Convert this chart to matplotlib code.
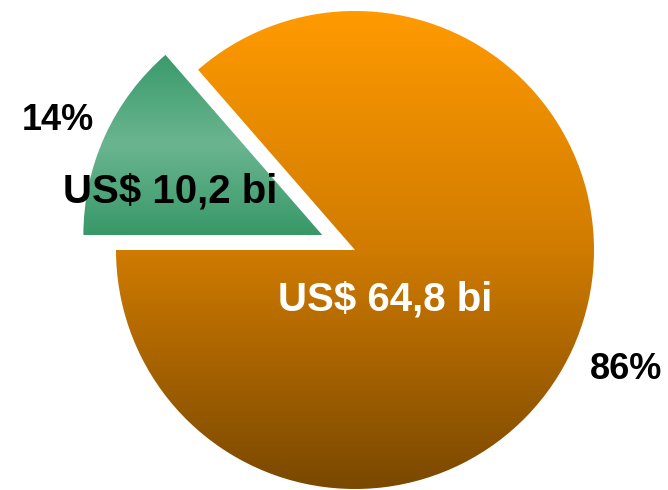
import numpy as np
import matplotlib.pyplot as plt
from matplotlib.colors import LinearSegmentedColormap

# valores (US$ bi)
valores = [64.8, 10.2]
rotulos = ['US$ 64,8 bi', 'US$ 10,2 bi']
percentuais = ['86%', '14%']

plt.rcParams['font.family'] = ['Liberation Sans', 'DejaVu Sans']

fig = plt.figure(figsize=(6.68, 4.9), dpi=100)
ax = fig.add_axes([0, 0, 1, 1])

wedges, _ = ax.pie(valores, startangle=180, explode=[0, 0.15], radius=1,
                   wedgeprops=dict(linewidth=0))

# escala: 239 px por unidade, centro em (355, 250) px
ax.set_xlim(-355 / 239, (668 - 355) / 239)
ax.set_ylim(-(490 - 250) / 239, 250 / 239)
ax.set_aspect('auto')
ax.axis('off')

laranja = LinearSegmentedColormap.from_list(
    'lar', [(0, '#7a4800'), (0.5, '#d07b00'), (1, '#ff9a00')])
verde = LinearSegmentedColormap.from_list(
    'ver', [(0, '#389868'), (0.5, '#6ab590'), (1, '#3a9a6a')])

grad = np.linspace(0, 1, 256).reshape(-1, 1)
for w, cmap in zip(wedges, [laranja, verde]):
    w.set_facecolor('none')
    bb = w.get_path().get_extents(w.get_transform() + ax.transData.inverted())
    im = ax.imshow(grad, cmap=cmap, origin='lower', aspect='auto',
                   extent=[bb.x0, bb.x1, bb.y0, bb.y1], zorder=1)
    im.set_clip_path(w)

ax.set_xlim(-355 / 239, (668 - 355) / 239)
ax.set_ylim(-(490 - 250) / 239, 250 / 239)

ax.text(0.125, -0.206, rotulos[0], color='white', fontsize=29,
        fontweight='bold', ha='center', va='center', zorder=3)
ax.text(-0.774, 0.245, rotulos[1], color='black', fontsize=29,
        fontweight='bold', ha='center', va='center', zorder=3)
ax.text(1.136, -0.502, percentuais[0], color='black', fontsize=26,
        fontweight='bold', ha='center', va='center', zorder=3)
ax.text(-1.245, 0.540, percentuais[1], color='black', fontsize=26,
        fontweight='bold', ha='center', va='center', zorder=3)

fig.savefig('out.png', dpi=100)
